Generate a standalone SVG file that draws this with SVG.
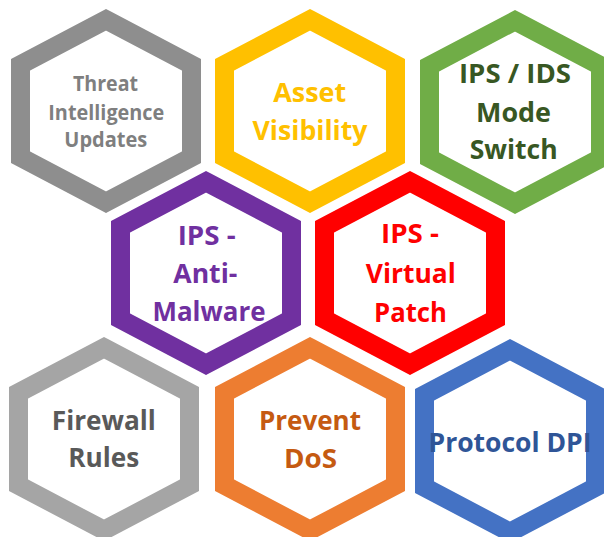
<svg xmlns="http://www.w3.org/2000/svg" width="604" height="537" viewBox="0 0 604 537">
  <defs>
    <path id="hex" d="M0,-91.26 L85.5,-46.26 L85.5,46.26 L0,91.26 L-85.5,46.26 L-85.5,-46.26 Z"/>
    <style>
      .hx { fill: none; stroke-width: 19; stroke-linejoin: miter; }
      text { font-family: "Open Sans", "Liberation Sans", sans-serif; font-weight: bold; text-anchor: middle; font-size: 26px; }
      .sm { font-size: 20.5px; }
    </style>
  </defs>
  <rect width="604" height="537" fill="#ffffff"/>

  <g id="threat">
    <use href="#hex" class="hx" stroke="#8E8E8E" transform="translate(106,111)"/>
    <text class="sm" fill="#7F7F7F" x="105.5" y="91" textLength="65" lengthAdjust="spacingAndGlyphs">Threat</text>
    <text class="sm" fill="#7F7F7F" x="106.3" y="119.5" textLength="116" lengthAdjust="spacingAndGlyphs">Intelligence</text>
    <text class="sm" fill="#7F7F7F" x="105.8" y="147" textLength="83" lengthAdjust="spacingAndGlyphs">Updates</text>
  </g>

  <g id="asset">
    <use href="#hex" class="hx" stroke="#FFC000" transform="translate(310,111)"/>
    <text fill="#FFC000" x="309.7" y="101.7" textLength="73" lengthAdjust="spacingAndGlyphs">Asset</text>
    <text fill="#FFC000" x="310" y="140" textLength="115" lengthAdjust="spacingAndGlyphs">Visibility</text>
  </g>

  <g id="ipsids">
    <use href="#hex" class="hx" stroke="#70AD47" transform="translate(515,112)"/>
    <text fill="#385723" x="515" y="83.3" textLength="112" lengthAdjust="spacingAndGlyphs">IPS / IDS</text>
    <text fill="#385723" x="513.5" y="121.7" textLength="75" lengthAdjust="spacingAndGlyphs">Mode</text>
    <text fill="#385723" x="513.7" y="159.3" textLength="88" lengthAdjust="spacingAndGlyphs">Switch</text>
  </g>

  <g id="antimalware">
    <use href="#hex" class="hx" stroke="#7030A0" transform="translate(206,273)"/>
    <text fill="#7030A0" x="206.7" y="245" textLength="58" lengthAdjust="spacingAndGlyphs">IPS -</text>
    <text fill="#7030A0" x="205.3" y="282.7" textLength="64" lengthAdjust="spacingAndGlyphs">Anti-</text>
    <text fill="#7030A0" x="209" y="320.7" textLength="113" lengthAdjust="spacingAndGlyphs">Malware</text>
  </g>

  <g id="virtualpatch">
    <use href="#hex" class="hx" stroke="#FF0000" transform="translate(410,273)"/>
    <text fill="#FF0000" x="410" y="243.3" textLength="58" lengthAdjust="spacingAndGlyphs">IPS -</text>
    <text fill="#FF0000" x="410.8" y="283.3" textLength="90" lengthAdjust="spacingAndGlyphs">Virtual</text>
    <text fill="#FF0000" x="410.5" y="321.7" textLength="73" lengthAdjust="spacingAndGlyphs">Patch</text>
  </g>

  <g id="firewall">
    <use href="#hex" class="hx" stroke="#A5A5A5" transform="translate(104,439)"/>
    <text fill="#595959" x="103.8" y="430" textLength="104" lengthAdjust="spacingAndGlyphs">Firewall</text>
    <text fill="#595959" x="103.8" y="467.3" textLength="71" lengthAdjust="spacingAndGlyphs">Rules</text>
  </g>

  <g id="dos">
    <use href="#hex" class="hx" stroke="#ED7D31" transform="translate(310,439)"/>
    <text fill="#C55A11" x="310" y="430" textLength="102" lengthAdjust="spacingAndGlyphs">Prevent</text>
    <text fill="#C55A11" x="310.5" y="468.3" textLength="53" lengthAdjust="spacingAndGlyphs">DoS</text>
  </g>

  <g id="dpi">
    <use href="#hex" class="hx" stroke="#4472C4" transform="translate(510,441)"/>
    <text fill="#2F5597" x="510" y="451.7" textLength="163" lengthAdjust="spacingAndGlyphs">Protocol DPI</text>
  </g>

  <g id="connectors"/>
</svg>
